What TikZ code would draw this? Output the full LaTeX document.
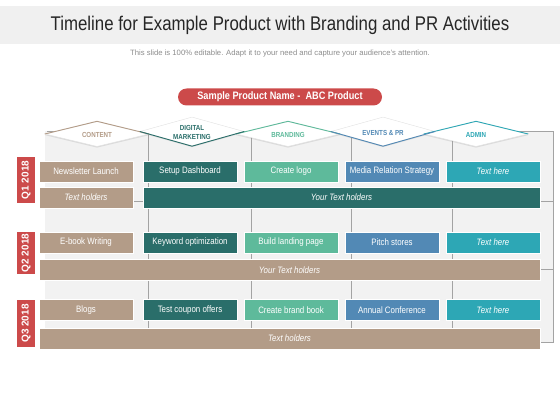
\documentclass[tikz,border=0pt]{standalone}
\usepackage{fontspec}
\setmainfont{Liberation Sans}
\newfontfamily\narrowfont[FakeStretch=0.85]{Liberation Sans}
\usetikzlibrary{positioning,shapes.geometric,shadows,calc}

\definecolor{tanc}{HTML}{B39C88}
\definecolor{tealc}{HTML}{2A6E6A}
\definecolor{greenc}{HTML}{5EBA9B}
\definecolor{bluec}{HTML}{5289B5}
\definecolor{cyanc}{HTML}{2DA7B5}
\definecolor{redc}{HTML}{CC4A4A}
\definecolor{bandc}{HTML}{F0F0F0}
\definecolor{gridc}{HTML}{F2F2F2}
\definecolor{linec}{HTML}{A3A3A3}

\tikzset{
  cell/.style={fill=#1, draw=white, line width=0.4pt, minimum width=94pt,
    minimum height=21pt, inner sep=0pt, text=white,
    font=\narrowfont\fontsize{9.3}{11}\selectfont,
    drop shadow={shadow xshift=0.8pt, shadow yshift=-0.8pt, opacity=0.3}},
  quarter/.style={fill=redc, rotate=90, minimum height=18pt, inner sep=0pt,
    text=white, font=\bfseries\fontsize{10}{12}\selectfont},
  pill/.style={fill=redc, rounded corners=8.5pt, minimum width=204pt,
    minimum height=17pt, inner sep=0pt, text=white,
    font=\narrowfont\bfseries\fontsize{10.8}{12}\selectfont},
  head/.style={diamond, fill=white, draw=black!12, line width=0.4pt,
    minimum width=104pt, inner sep=0pt,
    drop shadow={shadow xshift=0pt, shadow yshift=-1.2pt, opacity=0.2}},
  headtext/.style={align=center, inner sep=0pt,
    font=\narrowfont\bfseries\fontsize{7.3}{9}\selectfont},
  headline/.style={line width=0.9pt},
  gridline/.style={draw=linec, line width=0.6pt}
}

\begin{document}
\begin{tikzpicture}[x=1pt,y=-1pt]
  \useasboundingbox (0,0) rectangle (560,420);
  % title band
  \fill[bandc] (0,6) rectangle (560,44);
  \node[font=\narrowfont\fontsize{19.8}{22}\selectfont, text=black!85] (title) at (280,25)
    {Timeline for Example Product with Branding and PR Activities};
  \node[font=\fontsize{7.7}{9}\selectfont, text=black!45] (subtitle) at (280,54)
    {This slide is 100\% editable. Adapt it to your need and capture your audience's attention.};
  % product name
  \node[pill] (product) at (280,97) {Sample Product Name -\ \ ABC Product};
  % grid behind the boxes
  \fill[gridc] (45,131) rectangle (553,342);
  \draw[gridline] (47,131) -- (553,131) -- (553,342) -- (47,342);
  \foreach \y in {201,269} \draw[gridline] (47,\y) -- (553,\y);
  \foreach \x in {148,251,351,452} \draw[gridline] (\x,131) -- (\x,342);
  % header diamonds
  \foreach \xc/\yc/\hh/\col/\txt [count=\i] in {97/134/25/tanc/CONTENT,
      192/131.5/29/tealc/{DIGITAL\\MARKETING}, 288/134/25/greenc/BRANDING,
      383/131.5/29/bluec/{EVENTS \& PR}, 476/134/25/cyanc/ADMIN} {
    \node[head, minimum height=\hh pt,
      label={[headtext, text=\col, yshift=-1pt]center:\txt}] (h\i) at (\xc,\yc) {};
  }
  \foreach \i/\col in {1/tanc,3/greenc,5/cyanc}
    \draw[headline, \col] (h\i.west) -- (h\i.north) -- (h\i.east);
  \foreach \i/\col in {2/tealc,4/bluec}
    \draw[headline, \col] (h\i.west) -- (h\i.south) -- (h\i.east);
  % first row of each quarter
  \foreach \r/\yr/\ta/\tb/\tc/\td in {
      1/171.5/Newsletter Launch/Setup Dashboard/Create logo/Media Relation Strategy,
      2/242.5/E-book Writing/Keyword optimization/Build landing page/Pitch stores,
      3/310/Blogs/Test coupon offers/Create brand book/Annual Conference} {
    \node[cell=tanc] (q\r-1) at (86,\yr) {\ta};
    \node[cell=tealc] (q\r-2) at (190,\yr) {\tb};
    \node[cell=greenc] (q\r-3) at (291,\yr) {\tc};
    \node[cell=bluec] (q\r-4) at (392,\yr) {\td};
    \node[cell=cyanc] (q\r-5) at (493,\yr) {\textit{Text here}};
  }
  % text holder bars
  \node[cell=tanc] (q1-hold) at (86,197.5) {\textit{Text holders}};
  \node[cell=tealc, minimum width=397pt] (q1-bar) at (341.5,197.5) {\textit{Your Text holders}};
  \node[cell=tanc, minimum width=501pt] (q2-bar) at (289.5,270) {\textit{Your Text holders}};
  \node[cell=tanc, minimum width=501pt] (q3-bar) at (289.5,338.5) {\textit{Text holders}};
  % quarter labels
  \foreach \q/\yq/\hq in {1/180/46, 2/253/42, 3/323.5/47}
    \node[quarter, minimum width=\hq pt] (q\q) at (26,\yq) {Q\q{} 2018};
\end{tikzpicture}
\end{document}
